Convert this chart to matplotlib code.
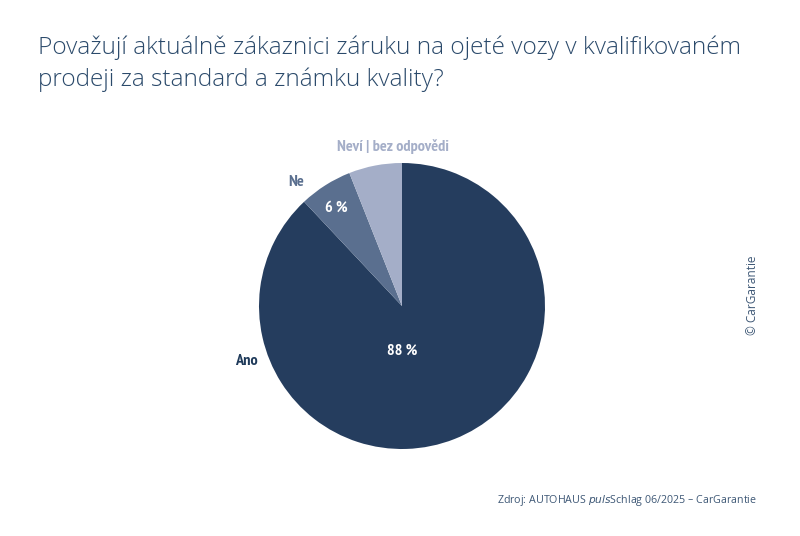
import matplotlib.pyplot as plt
import numpy as np

# data
kategorie = ["Ano", "Ne", "Neví | bez odpovědi"]
hodnoty = [88, 6, 6]
barvy = ["#253d5e", "#5a6f8f", "#a4aec8"]
popisky_barvy = ["#1f3a5a", "#5a6f8f", "#a4aec8"]

W, H = 800, 536
fig = plt.figure(figsize=(W / 100, H / 100), dpi=100)

# title
titulek = ["Považují aktuálně zákaznici záruku na ojeté vozy v kvalifikovaném",
           "prodeji za standard a známku kvality?"]
for i, radek in enumerate(titulek):
    fig.text(38 / W, 1 - (48 + 32 * i) / H, radek, family="Open Sans", fontweight="light",
             fontsize=17.6, color="#2b4a6b", va="center", ha="left")

# pie axes: center (402,306), radius 143 px
cx, cy, r = 402, 306, 143
ax = fig.add_axes([(cx - r) / W, (H - cy - r) / H, 2 * r / W, 2 * r / H])
ax.pie(hodnoty, colors=barvy, startangle=90, counterclock=False, radius=1,
       wedgeprops=dict(linewidth=0))
ax.set_xlim(-1, 1)
ax.set_ylim(-1, 1)
ax.set_aspect("auto")
ax.axis("off")

lab_font = ["PT Sans Narrow", "DejaVu Sans"]

def px(x, y):
    return ((x - cx) / r, (cy - y) / r)

# category labels
for name, col, (x, y), ha in zip(kategorie, popisky_barvy,
                                [(258, 361), (296, 182), (393, 147)],
                                ["right", "center", "center"]):
    ax.text(*px(x, y), name, family=lab_font, fontweight="bold", fontsize=11.7,
            color=col, ha=ha, va="center", clip_on=False)

# percentages
ax.text(*px(402, 351), f"{hodnoty[0]}\u2009%", family=lab_font, fontweight="bold",
        fontsize=11.7, color="white", ha="center", va="center")
ax.text(*px(336, 208), f"{hodnoty[1]}\u2009%", family=lab_font, fontweight="bold",
        fontsize=11.7, color="white", ha="center", va="center")

# source
fig.text(757 / W, 1 - 500 / H, "Zdroj: AUTOHAUS $\\it{puls}$Schlag 06/2025 – CarGarantie",
         family="Open Sans", fontsize=7.7, color="#3d5775", ha="right", va="center")

# copyright
fig.text(752 / W, 1 - 295 / H, "© CarGarantie", family="Open Sans", fontsize=8.5,
         color="#3d5775", rotation=90, ha="center", va="center")

fig.savefig("out.png", dpi=100)
